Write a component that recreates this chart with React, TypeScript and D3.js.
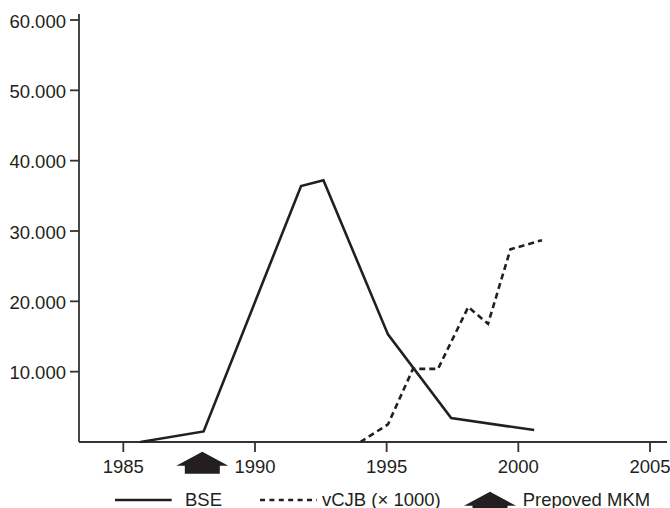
import React from "react";
import * as d3 from "d3";

const bseYears = [1985.65, 1988.05, 1991.75, 1992.6, 1995.05, 1997.45, 2000.6];
const bseValues = [0, 1500, 36400, 37200, 15300, 3400, 1700];
const vcjbYears = [1994.0, 1995.05, 1996.0, 1996.95, 1998.1, 1998.85, 1999.7, 2000.9];
const vcjbValues = [0, 2500, 10400, 10400, 19200, 16800, 27400, 28700];
const xTicks = [1985, 1990, 1995, 2000, 2005];
const yTicks = [10000, 20000, 30000, 40000, 50000, 60000];
const markerYear = 1988;
const legendLabels = ["BSE", "vCJB (× 1000)", "Prepoved MKM"];

const W = 670;
const H = 508;
const INK = "#231f20";
const FONT = "'Liberation Sans', Arial, Helvetica, sans-serif";
const FS = 18.5;

const x = d3.scaleLinear().domain([1985, 2005]).range([123.3, 650]);
const y = d3.scaleLinear().domain([0, 60000]).range([442, 20]);
const fmt = d3
  .formatLocale({ decimal: ",", thousands: ".", grouping: [3], currency: ["", ""] })
  .format(",");

const line = d3
  .line<[number, number]>()
  .x((d) => x(d[0]))
  .y((d) => y(d[1]));

const bseData: [number, number][] = bseYears.map((yr, i) => [yr, bseValues[i]]);
const vcjbData: [number, number][] = vcjbYears.map((yr, i) => [yr, vcjbValues[i]]);

// upward block arrow: tip at (cx, top)
function arrowPath(cx: number, top: number) {
  const hw = 26;
  const sw = 17.5;
  const hh = 14;
  const sh = 8;
  return `M${cx},${top} L${cx + hw},${top + hh} L${cx + sw},${top + hh} L${cx + sw},${top + hh + sh} L${cx - sw},${top + hh + sh} L${cx - sw},${top + hh} L${cx - hw},${top + hh} Z`;
}

export default function App() {
  const axisX = 79;
  const axisY = 442;
  return (
    <svg
      width={W}
      height={H}
      style={{ position: "absolute", left: 0, top: 0, background: "#fff" }}
      fontFamily={FONT}
    >
      <rect width={W} height={H} fill="#fff" />
      <line x1={axisX} x2={axisX} y1={14} y2={axisY} stroke="#333" strokeWidth={1.8} />
      {yTicks.map((t) => (
        <g key={t}>
          <line x1={70} x2={axisX} y1={y(t)} y2={y(t)} stroke="#333" strokeWidth={1.8} />
          <text
            x={66}
            y={y(t) + 1}
            textAnchor="end"
            dominantBaseline="central"
            fontSize={FS}
            fill={INK}
          >
            {fmt(t)}
          </text>
        </g>
      ))}
      <line x1={axisX} x2={667} y1={axisY} y2={axisY} stroke="#333" strokeWidth={1.8} />
      {xTicks.map((t) => (
        <g key={t}>
          <line x1={x(t)} x2={x(t)} y1={axisY} y2={axisY + 10} stroke="#333" strokeWidth={1.8} />
          <text x={x(t)} y={472.5} textAnchor="middle" fontSize={FS} fill={INK}>
            {t}
          </text>
        </g>
      ))}
      <path d={line(bseData) || ""} fill="none" stroke={INK} strokeWidth={2.6} strokeLinejoin="miter" />
      <path
        d={line(vcjbData) || ""}
        fill="none"
        stroke={INK}
        strokeWidth={2.6}
        strokeDasharray="6,4"
      />
      <path d={arrowPath(x(markerYear), 451.7)} fill={INK} />
      <line x1={115} x2={171.7} y1={500} y2={500} stroke={INK} strokeWidth={2.6} />
      <text x={185} y={505.5} fontSize={FS} fill={INK}>
        {legendLabels[0]}
      </text>
      <line x1={260} x2={317} y1={500} y2={500} stroke={INK} strokeWidth={2.6} strokeDasharray="5,4.4" />
      <text x={322} y={505.5} fontSize={FS} fill={INK}>
        {legendLabels[1]}
      </text>
      <path d={arrowPath(490, 491.7)} fill={INK} />
      <text x={522.7} y={505.5} fontSize={FS} fill={INK}>
        {legendLabels[2]}
      </text>
    </svg>
  );
}
